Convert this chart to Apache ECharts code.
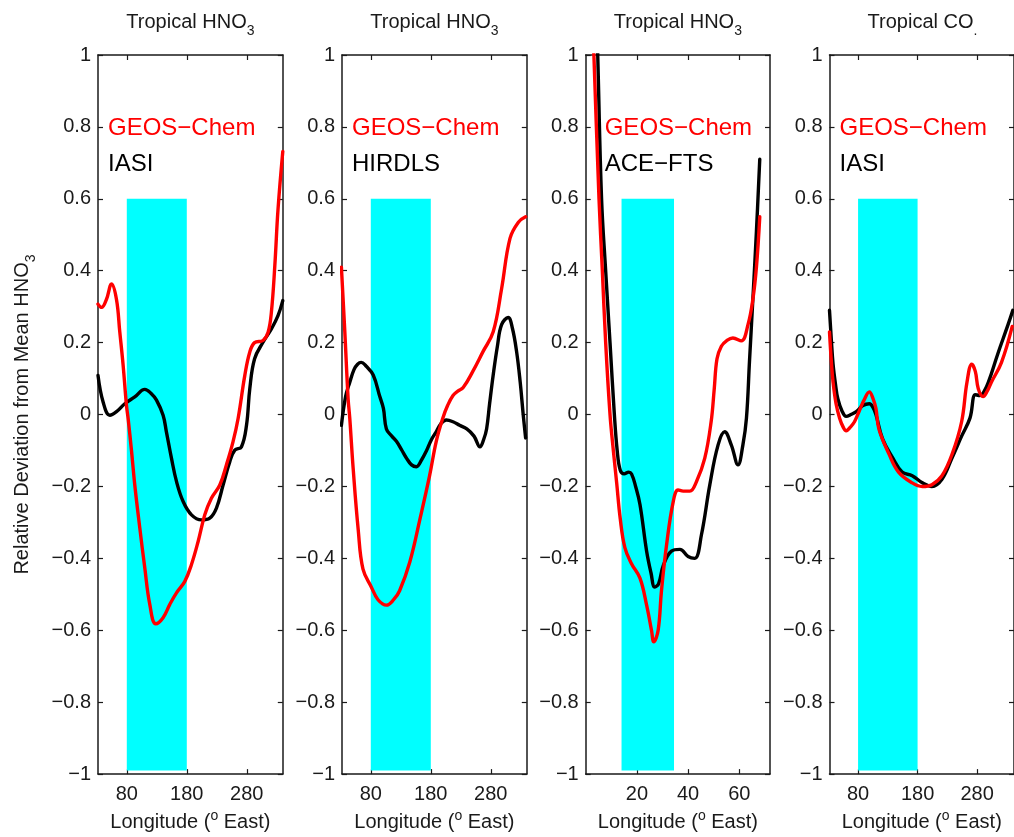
<!DOCTYPE html>
<html>
<head>
<meta charset="utf-8">
<script src="https://cdn.jsdelivr.net/npm/echarts@6/dist/echarts.min.js"></script>
<style>
  html, body { margin: 0; padding: 0; background: #fff; }
  #chart { width: 1014px; height: 837px; }
</style>
</head>
<body>
<div id="chart"></div>
<script>
// panel 1: GEOS-Chem vs IASI (HNO3)
const lonP1Model = [32, 38, 46, 54.5, 62.8, 68.3, 73.9, 79.4, 82.2, 87.8, 93.3, 101.7, 110, 118.3, 128.3, 140.5, 151.7, 162.8, 176.7, 187.8, 198.9, 210, 221, 235, 246, 257, 265.5, 276.7, 285, 293, 307, 315.5, 321, 326.7, 332, 340];
const geosP1 = [0.307, 0.298, 0.32, 0.363, 0.32, 0.23, 0.137, 0.026, -0.011, -0.10, -0.196, -0.316, -0.427, -0.528, -0.582, -0.565, -0.528, -0.496, -0.464, -0.417, -0.353, -0.279, -0.233, -0.196, -0.14, -0.076, -0.011, 0.109, 0.174, 0.20, 0.206, 0.229, 0.285, 0.414, 0.57, 0.732];
const lonP1Obs = [32, 40.5, 51.7, 62.8, 76.7, 93.3, 110, 121, 129.5, 140.5, 146, 154.5, 162.8, 173.9, 187.8, 204.5, 218.3, 229.4, 240.5, 251.7, 260, 271, 279.5, 285, 293, 307, 321, 332, 340];
const iasiP1 = [0.109, 0.035, -0.002, 0.008, 0.03, 0.049, 0.07, 0.058, 0.04, -0.002, -0.048, -0.122, -0.186, -0.242, -0.279, -0.293, -0.288, -0.26, -0.196, -0.131, -0.099, -0.09, -0.03, 0.072, 0.155, 0.201, 0.238, 0.275, 0.317];

// panel 2: GEOS-Chem vs HIRDLS (HNO3)
const lonP2Model = [31, 36.7, 42.2, 45, 50.6, 59, 67, 81, 92, 106, 118, 128, 145, 162, 178, 189, 200, 208, 217, 225, 234, 250, 267, 284, 298, 312, 326, 338];
const geosP2 = [0.41, 0.23, 0.044, -0.011, -0.15, -0.32, -0.43, -0.48, -0.515, -0.53, -0.515, -0.49, -0.41, -0.29, -0.17, -0.075, -0.01, 0.025, 0.053, 0.065, 0.075, 0.12, 0.175, 0.23, 0.35, 0.49, 0.535, 0.55];
const lonP2Obs = [31, 38, 45, 52, 58, 64, 72, 84, 95, 101, 106, 115, 123, 132, 139, 148, 156, 165, 173, 181, 189, 197, 206, 217, 228, 240, 252, 262, 268, 273, 278, 284, 291, 298, 309, 316, 323, 329, 334, 338];
const hirdlsP2 = [-0.03, 0.05, 0.09, 0.125, 0.14, 0.145, 0.135, 0.11, 0.05, 0.017, -0.04, -0.06, -0.075, -0.10, -0.12, -0.14, -0.145, -0.125, -0.10, -0.07, -0.048, -0.025, -0.015, -0.02, -0.03, -0.04, -0.06, -0.09, -0.07, -0.04, 0.03, 0.11, 0.19, 0.25, 0.27, 0.24, 0.175, 0.09, 0.0, -0.065];

// panel 3: GEOS-Chem vs ACE-FTS (HNO3), x in bins 0..72
const lonP3Model = [2, 3.2, 5.2, 6.5, 7.8, 9.5, 10.8, 12.1, 13.5, 15.3, 17.9, 21.2, 23.8, 25.7, 26.6, 28.3, 29.6, 31.6, 34.2, 36.1, 38.1, 40.7, 43.3, 46.5, 49, 50.2, 51.3, 53, 55, 57.5, 60.8, 63.4, 65.3, 66.7, 68];
const geosP3 = [1.24, 1.0, 0.6, 0.4, 0.2, 0.0, -0.10, -0.19, -0.29, -0.37, -0.415, -0.455, -0.53, -0.60, -0.632, -0.60, -0.49, -0.362, -0.242, -0.21, -0.213, -0.213, -0.186, -0.122, -0.02, 0.07, 0.155, 0.19, 0.205, 0.213, 0.205, 0.25, 0.32, 0.41, 0.55];
const lonP3Obs = [3.5, 4.7, 6.2, 7.8, 9.5, 11.2, 12.3, 13.5, 15, 16.8, 17.9, 19.5, 21.2, 23.8, 25.5, 27, 28.5, 30.3, 33.5, 36.8, 40, 42.6, 45.2, 48.5, 51.7, 54.3, 56.9, 59.5, 61.4, 62.8, 64, 65.3, 66.7, 68];
const aceP3 = [1.3, 1.0, 0.6, 0.4, 0.2, 0.0, -0.10, -0.155, -0.165, -0.16, -0.165, -0.2, -0.25, -0.38, -0.44, -0.48, -0.47, -0.42, -0.38, -0.375, -0.395, -0.40, -0.335, -0.195, -0.085, -0.048, -0.085, -0.14, -0.085, -0.01, 0.15, 0.32, 0.51, 0.71];

// panel 4: GEOS-Chem vs IASI (CO)
const lonP4Model = [32, 35, 38, 43, 49, 55, 60, 67, 74, 82, 90, 99, 105, 110, 115, 132, 148, 171, 188, 204, 221, 238, 254, 263, 271, 277, 282, 290, 297, 304, 321, 339];
const geosP4 = [0.23, 0.15, 0.09, 0.03, -0.01, -0.035, -0.045, -0.035, -0.02, 0.01, 0.04, 0.063, 0.045, 0.017, -0.04, -0.11, -0.16, -0.19, -0.20, -0.195, -0.17, -0.11, -0.02, 0.09, 0.14, 0.12, 0.072, 0.05, 0.065, 0.09, 0.145, 0.245];
const lonP4Obs = [32, 35, 38, 42, 46, 53, 60, 68, 77, 88, 99, 105, 110, 121, 138, 154, 171, 188, 204, 221, 238, 254, 268, 277, 285, 292, 299, 315, 332, 340];
const iasiP4 = [0.29, 0.21, 0.14, 0.085, 0.044, 0.01, -0.005, 0.0, 0.008, 0.025, 0.03, 0.02, 0.0, -0.067, -0.12, -0.16, -0.17, -0.19, -0.20, -0.18, -0.12, -0.06, -0.01, 0.055, 0.053, 0.065, 0.09, 0.17, 0.25, 0.29];

// axes, ticks and shaded band
const lonTicksDeg = [80, 180, 280];
const lonTicksBin = [20, 40, 60];
const bandDeg = [80, 180];
const bandBin = [14, 34.5];
const bandY = [-0.99, 0.6];
const yTicks = [-1, 1, 0.2];

const font = '"Liberation Sans", Arial, Helvetica, sans-serif';
const ink = '#1a1a1a';
const red = '#ff0000';

const panels = [
  { left: 98, width: 184.8, min: 32, max: 340, ticks: lonTicksDeg, band: bandDeg, gas: 'HNO', sub: '3', obs: 'IASI', lm: lonP1Model, m: geosP1, lo: lonP1Obs, o: iasiP1, dx: 10 },
  { left: 342, width: 184.8, min: 32, max: 340, ticks: lonTicksDeg, band: bandDeg, gas: 'HNO', sub: '3', obs: 'HIRDLS', lm: lonP2Model, m: geosP2, lo: lonP2Obs, o: hirdlsP2, dx: 10 },
  { left: 585.7, width: 184.3, min: 0, max: 72, ticks: lonTicksBin, band: bandBin, gas: 'HNO', sub: '3', obs: 'ACE\u2212FTS', lm: lonP3Model, m: geosP3, lo: lonP3Obs, o: aceP3, dx: 19 },
  { left: 829.5, width: 186, min: 32, max: 342, ticks: lonTicksDeg, band: bandDeg, gas: 'CO', sub: '.', obs: 'IASI', lm: lonP4Model, m: geosP4, lo: lonP4Obs, o: iasiP4, dx: 10 }
];

const gridTop = 55, gridHeight = 722;
const zip = (xs, ys) => xs.map((x, k) => [x, ys[k]]);
const fmtY = v => { const r = Math.round(v * 10) / 10; return r < 0 ? '\u2212' + (-r) : String(r); };

const grids = [], xAxes = [], yAxes = [], seriesList = [], graphics = [];

panels.forEach((p, i) => {
  grids.push({ left: p.left, top: gridTop, width: p.width, height: gridHeight });

  const tick = { show: true, inside: true, length: 5, customValues: p.ticks, lineStyle: { color: ink, width: 1.2 } };
  const line = { show: true, onZero: false, lineStyle: { color: ink, width: 1.5 } };
  xAxes.push({
    type: 'value', gridIndex: i, position: 'bottom', min: p.min, max: p.max,
    axisLine: line, axisTick: tick, splitLine: { show: false },
    axisLabel: { customValues: p.ticks, margin: 10, color: ink, fontSize: 20, fontFamily: font },
    name: '{n|Longitude (}{sup|o}{n| East)}', nameLocation: 'middle', nameGap: 33,
    nameTextStyle: {
      color: ink, fontSize: 20, fontFamily: font,
      rich: {
        n: { fontSize: 20, verticalAlign: 'top', padding: [3, 0, 0, 0], fontFamily: font, color: ink },
        sup: { fontSize: 14, verticalAlign: 'top', fontFamily: font, color: ink }
      }
    }
  });
  xAxes.push({
    type: 'value', gridIndex: i, position: 'top', min: p.min, max: p.max,
    axisLine: line, axisTick: tick, axisLabel: { show: false }, splitLine: { show: false }
  });

  const yTick = { show: true, inside: true, length: 5, lineStyle: { color: ink, width: 1.2 } };
  const yLeft = {
    type: 'value', gridIndex: i, position: 'left', min: yTicks[0], max: yTicks[1], interval: yTicks[2],
    axisLine: line, axisTick: yTick, splitLine: { show: false },
    axisLabel: { margin: 7, color: ink, fontSize: 20, fontFamily: font, formatter: fmtY }
  };
  if (i === 0) {
    yLeft.name = '{n|Relative Deviation from Mean HNO}{s|3}';
    yLeft.nameLocation = 'middle';
    yLeft.nameRotate = 90;
    yLeft.nameGap = 60;
    yLeft.nameTextStyle = {
      color: ink, fontFamily: font, fontSize: 20,
      rich: {
        n: { fontSize: 20, verticalAlign: 'top', fontFamily: font, color: ink },
        s: { fontSize: 14, verticalAlign: 'top', padding: [12, 0, 0, 0], fontFamily: font, color: ink }
      }
    };
  }
  yAxes.push(yLeft);
  yAxes.push({
    type: 'value', gridIndex: i, position: 'right', min: yTicks[0], max: yTicks[1], interval: yTicks[2],
    axisLine: line, axisTick: yTick, axisLabel: { show: false }, splitLine: { show: false }
  });

  // cyan band
  seriesList.push({
    type: 'line', xAxisIndex: 2 * i, yAxisIndex: 2 * i, data: [], z: 1, silent: true,
    markArea: {
      silent: true,
      itemStyle: { color: '#00ffff', opacity: 1 },
      data: [[{ xAxis: p.band[0], yAxis: bandY[0] }, { xAxis: p.band[1], yAxis: bandY[1] }]]
    }
  });
  seriesList.push({
    name: p.obs, type: 'line', xAxisIndex: 2 * i, yAxisIndex: 2 * i, z: 3,
    data: zip(p.lo, p.o), showSymbol: false, smooth: 0.4, clip: true,
    lineStyle: { color: '#000', width: 3.4, cap: 'round', join: 'round' }, silent: true
  });
  seriesList.push({
    name: 'GEOS\u2212Chem', type: 'line', xAxisIndex: 2 * i, yAxisIndex: 2 * i, z: 4,
    data: zip(p.lm, p.m), showSymbol: false, smooth: 0.4, clip: true,
    lineStyle: { color: red, width: 3.4, cap: 'round', join: 'round' }, silent: true
  });

  // in-panel labels
  graphics.push({
    type: 'text', x: p.left + p.dx, y: 128, z: 10,
    style: { text: 'GEOS\u2212Chem', fill: red, font: '24px ' + font, verticalAlign: 'middle' }
  });
  graphics.push({
    type: 'text', x: p.left + p.dx, y: 164, z: 10,
    style: { text: p.obs, fill: '#000', font: '24px ' + font, verticalAlign: 'middle' }
  });

  // panel title
  graphics.push({
    type: 'text', x: p.left + p.width / 2, y: 25.5, z: 10,
    style: {
      text: '{a|Tropical ' + p.gas + '}{s|' + p.sub + '}',
      align: 'center', verticalAlign: 'middle',
      rich: {
        a: { fontSize: 20, fontFamily: font, fill: ink, verticalAlign: 'top' },
        s: { fontSize: 14, fontFamily: font, fill: ink, verticalAlign: 'top', padding: [12, 0, 0, 0] }
      }
    }
  });
});

const chart = echarts.init(document.getElementById('chart'));
chart.setOption({
  animation: false,
  backgroundColor: '#fff',
  grid: grids,
  xAxis: xAxes,
  yAxis: yAxes,
  series: seriesList,
  graphic: graphics
});
</script>
</body>
</html>
